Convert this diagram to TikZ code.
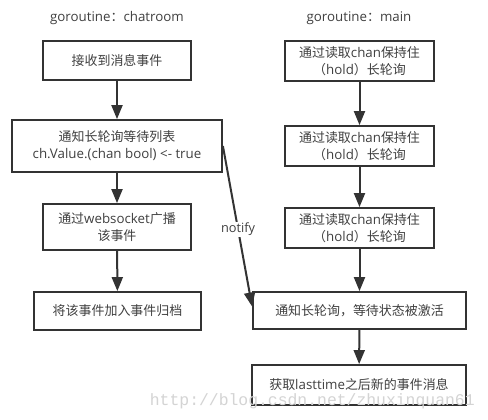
\documentclass[tikz,border=0pt]{standalone}
\usepackage{fontspec}
\setmainfont[Scale=1.11]{Open Sans}
\newfontfamily\cjk[Scale=1.08]{Noto Sans CJK SC}
\newfontfamily\wmfont{Liberation Mono}
\usetikzlibrary{arrows.meta}
\definecolor{ink}{HTML}{333333}
\definecolor{txt}{HTML}{404040}
\definecolor{wm}{HTML}{D4D4D4}
\begin{document}
\begin{tikzpicture}[x=1pt,y=-1pt,
  box/.style={draw=ink,line width=1.8pt,fill=white,text=txt,align=center,
    font=\fontsize{12pt}{17pt}\selectfont,inner sep=0pt},
  ttl/.style={text=txt,font=\fontsize{12pt}{15pt}\selectfont},
  flow/.style={draw=ink,line width=2pt,-{Triangle[length=14pt,width=11pt]}},
  lbl/.style={text=txt,font=\fontsize{11.5pt}{14pt}\selectfont,fill=white,inner sep=1pt}]
\useasboundingbox (0,0) rectangle (488,420);
\fill[white] (0,0) rectangle (488,420);

\node[ttl] (t1) at (117,18) {goroutine{\cjk ：}chatroom};
\node[ttl] (t2) at (359,18) {goroutine{\cjk ：}main};

\node[box,minimum width=148pt,minimum height=39pt] (L1) at (117,60.5) {\cjk 接收到消息事件};
\node[box,minimum width=210pt,minimum height=52pt] (L2) at (117,146) {{\cjk 通知长轮询等待列表}\\ch.Value.(chan bool) <- true};
\node[box,minimum width=148pt,minimum height=46pt] (L3) at (117,227) {{\cjk 通过}websocket{\cjk 广播}\\{\cjk 该事件}};
\node[box,minimum width=167pt,minimum height=38pt] (L4) at (117.5,311) {\cjk 将该事件加入事件归档};

\node[box,minimum width=149pt,minimum height=40pt] (R1) at (359.5,61) {{\cjk 通过读取}chan{\cjk 保持住}\\{\cjk （}hold{\cjk ）长轮询}};
\node[box,minimum width=149pt,minimum height=40pt] (R2) at (359.5,146) {{\cjk 通过读取}chan{\cjk 保持住}\\{\cjk （}hold{\cjk ）长轮询}};
\node[box,minimum width=149pt,minimum height=40pt] (R3) at (359.5,228) {{\cjk 通过读取}chan{\cjk 保持住}\\{\cjk （}hold{\cjk ）长轮询}};
\node[box,minimum width=213pt,minimum height=37pt] (R4) at (359.5,310.5) {\cjk 通知长轮询，等待状态被激活};
\node[box,minimum width=214pt,minimum height=40pt] (R5) at (359,385) {{\cjk 获取}lasttime{\cjk 之后新的事件消息}};

\draw[flow] (L1) -- (L2);
\draw[flow] (L2) -- (L3);
\draw[flow] (L3) -- (L4);
\draw[flow] (R1) -- (R2);
\draw[flow] (R2) -- (R3);
\draw[flow] (R3) -- (R4);
\draw[flow] (R4) -- (R5);
\draw[flow] (L2.east) -- node[lbl,pos=0.52] {notify} ([yshift=4pt]R4.west);

\node[text=wm,font=\wmfont\fontsize{16.4pt}{18pt}\selectfont,anchor=west] (wmk) at (146,401) {http://blog.csdn.net/zhuxinquan61};
\end{tikzpicture}
\end{document}
